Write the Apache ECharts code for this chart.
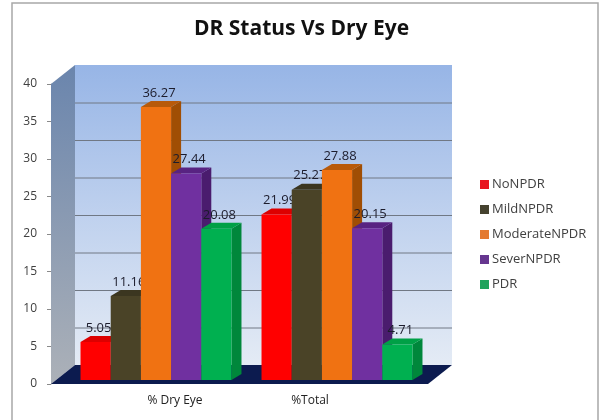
<!DOCTYPE html>
<html>
<head>
<meta charset="utf-8">
<script src="https://cdn.jsdelivr.net/npm/echarts@6/dist/echarts.min.js"></script>
<style>html,body{margin:0;padding:0;background:#fff;}#c{width:603px;height:420px;}</style>
</head>
<body>
<div id="c"></div>
<script>
const titleText = 'DR Status Vs Dry Eye';
const categories = ['% Dry Eye', '%Total'];
const seriesNames = ['NoNPDR', 'MildNPDR', 'ModerateNPDR', 'SeverNPDR', 'PDR'];
const noNPDR = [5.05, 21.99];
const mildNPDR = [11.16, 25.27];
const moderateNPDR = [36.27, 27.88];
const severNPDR = [27.44, 20.15];
const pdr = [20.08, 4.71];
const yTicks = [0, 5, 10, 15, 20, 25, 30, 35, 40];

const seriesValues = [noNPDR, mildNPDR, moderateNPDR, severNPDR, pdr];
const faceColors = [
  {front: '#ff0000', top: '#dd0000', side: '#bb0000'},
  {front: '#4a4327', top: '#3b3620', side: '#302c1a'},
  {front: '#f07212', top: '#b85a0a', side: '#a04e04'},
  {front: '#7030a0', top: '#582382', side: '#4a1c6e'},
  {front: '#00b050', top: '#00a046', side: '#00873b'}
];
const legendColors = ['#e8141e', '#45422f', '#e47a30', '#66368f', '#1fa35c'];

const FONT = '"Open Sans", sans-serif';
const yMin = yTicks[0], yMax = yTicks[yTicks.length - 1], yStep = yTicks[1] - yTicks[0];
const WALL_D = [24, -19];
const BAR_D = [10, -6];
const BAR_FILL = 0.834;

const chart = echarts.init(document.getElementById('c'), null, {renderer: 'canvas'});

function add(p, d) { return [p[0] + d[0], p[1] + d[1]]; }

function renderWalls(params, api) {
  const p0 = api.coord([0, yMin]), p1 = api.coord([1, yMin]);
  const q0 = api.coord([0, yMax]);
  const children = [];
  children.push({
    type: 'polygon',
    shape: {points: [q0, add(q0, WALL_D), add(p0, WALL_D), p0]},
    style: {fill: new echarts.graphic.LinearGradient(0, 0, 0, 1, [
      {offset: 0, color: '#6a85ad'}, {offset: 1, color: '#acb1b8'}])}
  });
  const bq0 = add(q0, WALL_D), bp1 = add(p1, WALL_D);
  children.push({
    type: 'rect',
    shape: {x: bq0[0], y: bq0[1], width: bp1[0] - bq0[0], height: bp1[1] - bq0[1]},
    style: {fill: new echarts.graphic.LinearGradient(0, 0, 0, 1, [
      {offset: 0, color: '#97b5e6'}, {offset: 0.5, color: '#bfd1ee'}, {offset: 1, color: '#e4ebf5'}])}
  });
  yTicks.slice(1, -1).forEach(function (v) {
    const a = add(api.coord([0, v]), WALL_D), b = add(api.coord([1, v]), WALL_D);
    children.push({type: 'line', shape: {x1: a[0], y1: a[1] + 0.5, x2: b[0], y2: b[1] + 0.5},
      style: {stroke: '#707884', lineWidth: 1}});
  });
  children.push({
    type: 'polygon',
    shape: {points: [p0, p1, add(p1, WALL_D), add(p0, WALL_D)]},
    style: {fill: '#0c1b4f'}
  });
  return {type: 'group', children: children};
}

function makeBarRenderer(si) {
  return function (params, api) {
    const cat = api.value(0), val = api.value(1);
    const top = api.coord([cat, val]);
    const base = api.coord([cat, 0]);
    const band = api.size([1, 0])[0];
    const bw = band * BAR_FILL / seriesNames.length;
    const x0 = top[0] - band * BAR_FILL / 2 + si * bw;
    const x1 = x0 + bw;
    const ty = top[1], by = base[1];
    const c = faceColors[si];
    return {
      type: 'group',
      children: [
        {type: 'polygon', shape: {points: [[x1, ty], [x1 + BAR_D[0], ty + BAR_D[1]], [x1 + BAR_D[0], by + BAR_D[1]], [x1, by]]},
          style: {fill: c.side}},
        {type: 'polygon', shape: {points: [[x0, ty], [x1, ty], [x1 + BAR_D[0], ty + BAR_D[1]], [x0 + BAR_D[0], ty + BAR_D[1]]]},
          style: {fill: c.top}},
        {type: 'rect', shape: {x: x0, y: ty, width: bw, height: by - ty}, style: {fill: c.front}},
        {type: 'text', x: x0 + bw / 2 + 3, y: ty - 14,
          style: {text: String(seriesValues[si][cat]), fill: '#1c1c2c', font: '13px ' + FONT, align: 'center', verticalAlign: 'middle'}}
      ]
    };
  };
}

const series = [{
  type: 'custom', name: '__walls', xAxisIndex: 0, yAxisIndex: 0, z: 1,
  data: [[0, 0]], encode: {x: 0, y: 1}, renderItem: renderWalls, silent: true
}];
seriesNames.forEach(function (name, si) {
  series.push({
    type: 'custom', name: name, xAxisIndex: 1, yAxisIndex: 1, z: 2,
    itemStyle: {color: legendColors[si]},
    data: seriesValues[si].map(function (v, i) { return [i, v]; }),
    encode: {x: 0, y: 1},
    renderItem: makeBarRenderer(si)
  });
});

chart.setOption({
  animation: false,
  backgroundColor: '#ffffff',
  title: {
    text: titleText, left: 'center', top: 14,
    textStyle: {fontFamily: FONT, fontWeight: 'bold', fontSize: 21, color: '#111111'}
  },
  legend: {
    data: seriesNames, orient: 'vertical', left: 480, top: 178, padding: 0,
    itemWidth: 9, itemHeight: 9, itemGap: 12, icon: 'rect',
    textStyle: {fontFamily: FONT, fontSize: 13, color: '#404040', padding: [0, 0, 0, -2]}
  },
  graphic: [{
    type: 'rect', shape: {x: 12, y: 3, width: 586, height: 440}, silent: true, z: -10,
    style: {fill: 'none', stroke: '#a8a8a8', lineWidth: 1.5}
  }],
  grid: [
    {left: 51, top: 84, width: 377, height: 300},
    {left: 65.5, top: 78.8, width: 362, height: 301.2},
    {left: 107.5, top: 84, width: 270, height: 300}
  ],
  xAxis: [
    {type: 'value', gridIndex: 0, min: 0, max: 1, show: false},
    {type: 'category', gridIndex: 1, data: categories, show: false},
    {type: 'category', gridIndex: 2, data: categories,
      axisLine: {show: false}, axisTick: {show: false},
      axisLabel: {fontFamily: FONT, fontSize: 12, color: '#222222', margin: 11}}
  ],
  yAxis: [
    {type: 'value', gridIndex: 0, min: yMin, max: yMax, interval: yStep,
      axisLine: {show: true, lineStyle: {color: '#9aa3ae'}},
      axisTick: {show: true, length: 4, lineStyle: {color: '#8a8a8a'}},
      splitLine: {show: false},
      axisLabel: {fontFamily: FONT, fontSize: 12, color: '#404040', margin: 14}},
    {type: 'value', gridIndex: 1, min: yMin, max: yMax, show: false, splitLine: {show: false}},
    {type: 'value', gridIndex: 2, min: yMin, max: yMax, show: false, splitLine: {show: false}}
  ],
  series: series
});
</script>
</body>
</html>
